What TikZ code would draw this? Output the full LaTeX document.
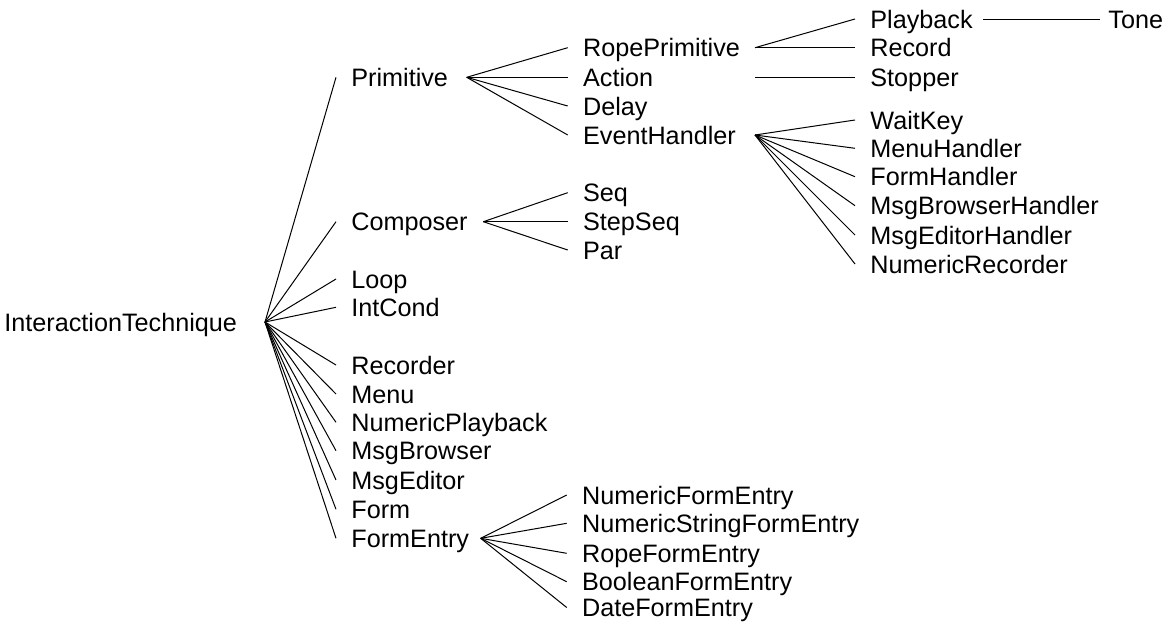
\documentclass[tikz,border=0pt]{standalone}
\usepackage{fontspec}
\setmainfont{Liberation Sans}
\begin{document}
\begin{tikzpicture}[x=0.5pt,y=-0.5pt,
  lbl/.style={anchor=west,font=\fontsize{12.6pt}{15pt}\selectfont,text height=9pt,text depth=0pt,inner ysep=0pt,inner xsep=7.5pt},
  link/.style={draw,line width=0.5pt}]
\useasboundingbox (0,0) rectangle (1176,621);
% root
\node[lbl,inner xsep=0pt] (root) at (4,322) {InteractionTechnique};
\coordinate (rootF) at (265,322);
% column 1
\foreach \n/\t/\y in {prim/Primitive/77.3, comp/Composer/221.7, loop/Loop/279, intc/IntCond/307.3,
  rec/Recorder/365, menu/Menu/394, nump/NumericPlayback/422.3, msgb/MsgBrowser/450.7,
  msge/MsgEditor/480, form/Form/509.3, fent/FormEntry/538.3}
  {\node[lbl] (\n) at (336,\y) {\t};
   \draw[link] (rootF) -- (\n.west);}
% primitive children
\coordinate (primF) at (466.7,77.3);
\foreach \n/\t/\y in {rope/RopePrimitive/47.7, act/Action/77.3, del/Delay/106, evh/EventHandler/135}
  {\node[lbl] (\n) at (567.7,\y) {\t};
   \draw[link] (primF) -- (\n.west);}
% composer children
\coordinate (compF) at (483.3,221.7);
\foreach \n/\t/\y in {seq/Seq/192.7, sseq/StepSeq/221.7, par/Par/250}
  {\node[lbl] (\n) at (567.7,\y) {\t};
   \draw[link] (compF) -- (\n.west);}
% formentry children
\coordinate (fentF) at (480.7,538.3);
\foreach \n/\t/\y in {nfe/NumericFormEntry/495, nsfe/NumericStringFormEntry/523.3, rfe/RopeFormEntry/553.3,
  bfe/BooleanFormEntry/581.7, dfe/DateFormEntry/607.5}
  {\node[lbl] (\n) at (566.7,\y) {\t};
   \draw[link] (fentF) -- (\n.west);}
% rope primitive children
\coordinate (ropeF) at (755,47.7);
\node[lbl] (play) at (855,19) {Playback};
\node[lbl] (recd) at (855,47.7) {Record};
\draw[link] (ropeF) -- (play.west);
\draw[link] (ropeF) -- (recd.west);
% action child
\coordinate (actF) at (755,77.3);
\node[lbl] (stop) at (855,77.3) {Stopper};
\draw[link] (actF) -- (stop.west);
% event handler children
\coordinate (evhF) at (755,135);
\foreach \n/\t/\y in {wait/WaitKey/120, mh/MenuHandler/148.3, fh/FormHandler/176.7,
  mbh/MsgBrowserHandler/205.7, meh/MsgEditorHandler/235, nr/NumericRecorder/264}
  {\node[lbl] (\n) at (855,\y) {\t};
   \draw[link] (evhF) -- (\n.west);}
% playback child
\coordinate (playF) at (983.3,19);
\node[lbl,inner xsep=4pt] (tone) at (1100,19) {Tone};
\draw[link] (playF) -- (tone.west);
\end{tikzpicture}
\end{document}
